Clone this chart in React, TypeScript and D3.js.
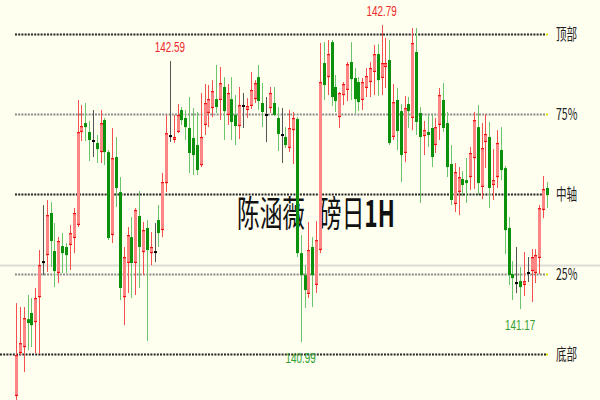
import React from 'react';
import * as d3 from 'd3';

const opens = [
  140.682, 140.926, 140.960, 141.119, 141.154, 141.102, 141.244, 141.443, 141.483, 141.722,
  141.506, 141.381, 141.534, 141.529, 141.540, 141.580, 141.654, 142.182, 142.233, 142.182,
  142.131, 142.120, 142.068, 142.250, 142.068, 141.597, 142.040, 141.841, 141.244, 141.438,
  141.585, 141.438, 141.705, 141.500, 141.637, 141.494, 141.500, 141.682, 141.625, 141.892,
  142.159, 142.137, 142.182, 142.307, 142.262, 142.205, 142.148, 142.108, 141.994, 142.222,
  142.290, 142.318, 142.369, 142.364, 142.438, 142.279, 142.369, 142.279, 142.216, 142.330,
  142.307, 142.330, 142.369, 142.494, 142.347, 142.279, 142.318, 142.347, 142.262, 142.165,
  142.154, 142.091, 142.193, 142.256, 141.494, 141.369, 141.262, 141.529, 141.313, 141.512,
  142.574, 142.494, 142.693, 142.438, 142.267, 142.392, 142.421, 142.580, 142.489, 142.466,
  142.364, 142.432, 142.466, 142.523, 142.625, 142.489, 142.551, 142.591, 142.154, 142.364,
  142.301, 142.063, 142.341, 142.262, 142.637, 142.290, 142.159, 142.182, 142.205, 142.108,
  142.222, 142.364, 142.233, 142.000, 141.773, 141.841, 141.915, 141.909, 141.926, 142.034,
  142.210, 141.870, 142.125, 142.154, 141.881, 141.926, 142.080, 141.977, 141.637, 141.375,
  141.324, 141.335, 141.313, 141.381, 141.392, 141.381, 141.466, 141.739, 141.864,
];
const highs = [
  141.210, 141.188, 141.188, 141.256, 141.239, 141.296, 141.512, 141.767, 141.796, 141.784,
  141.665, 141.585, 141.608, 141.551, 141.654, 141.750, 142.364, 142.335, 142.347, 142.245,
  142.307, 142.165, 142.307, 142.262, 142.080, 142.205, 142.154, 141.926, 141.529, 141.642,
  141.699, 141.750, 141.847, 141.671, 141.682, 141.614, 141.665, 141.767, 141.949, 142.279,
  142.585, 142.279, 142.341, 142.324, 142.307, 142.381, 142.318, 142.296, 142.404, 142.455,
  142.449, 142.477, 142.563, 142.551, 142.494, 142.455, 142.494, 142.392, 142.438, 142.404,
  142.375, 142.523, 142.477, 142.563, 142.460, 142.381, 142.438, 142.438, 142.324, 142.318,
  142.210, 142.307, 142.296, 142.267, 141.597, 141.426, 141.671, 141.585, 141.676, 142.688,
  142.693, 142.705, 142.705, 142.506, 142.409, 142.466, 142.580, 142.693, 142.546, 142.494,
  142.489, 142.546, 142.580, 142.676, 142.682, 142.790, 142.716, 142.705, 142.455, 142.432,
  142.341, 142.387, 142.381, 142.773, 142.773, 142.324, 142.245, 142.279, 142.279, 142.262,
  142.432, 142.460, 142.296, 142.108, 142.006, 141.983, 141.960, 142.034, 142.097, 142.296,
  142.335, 142.233, 142.284, 142.239, 142.085, 142.193, 142.210, 141.989, 141.699, 141.449,
  141.529, 141.415, 141.500, 141.472, 141.517, 141.517, 141.767, 141.932, 141.898,
];
const lows = [
  140.659, 140.915, 140.818, 140.943, 140.960, 140.926, 140.921, 141.369, 141.387, 141.415,
  141.301, 141.324, 141.381, 141.381, 141.398, 141.494, 141.642, 142.131, 142.131, 142.017,
  142.040, 142.006, 142.006, 141.994, 141.568, 141.551, 141.756, 141.227, 141.085, 141.267,
  141.239, 141.256, 141.296, 141.369, 140.995, 141.426, 141.443, 141.529, 141.585, 141.841,
  142.125, 142.120, 142.176, 142.222, 142.137, 141.949, 141.938, 141.938, 141.983, 142.165,
  142.210, 142.267, 142.290, 142.250, 142.137, 142.222, 142.137, 142.108, 142.142, 142.205,
  142.262, 142.313, 142.347, 142.307, 142.210, 142.125, 142.290, 142.273, 142.074, 142.006,
  142.091, 142.068, 142.000, 141.472, 140.989, 141.182, 141.239, 141.188, 141.267, 141.494,
  142.364, 142.392, 142.330, 142.296, 142.205, 142.335, 142.358, 142.364, 142.290, 142.301,
  142.307, 142.381, 142.381, 142.392, 142.387, 142.392, 142.432, 142.108, 142.137, 142.080,
  141.898, 142.012, 142.205, 142.193, 142.165, 141.779, 142.051, 142.097, 141.983, 142.063,
  142.137, 142.182, 141.926, 141.767, 141.727, 141.710, 141.818, 141.779, 141.852, 141.858,
  141.824, 141.801, 141.977, 141.750, 141.796, 141.864, 141.909, 141.489, 141.313, 141.227,
  141.267, 141.176, 141.250, 141.330, 141.216, 141.324, 141.375, 141.693, 141.750,
];
const closes = [
  140.915, 140.983, 141.125, 141.097, 141.085, 141.239, 141.426, 141.443, 141.710, 141.563,
  141.392, 141.563, 141.494, 141.483, 141.608, 141.722, 142.182, 142.216, 142.210, 142.137,
  142.131, 142.085, 142.233, 142.068, 141.580, 142.034, 141.864, 141.296, 141.472, 141.597,
  141.438, 141.739, 141.529, 141.625, 141.512, 141.529, 141.500, 141.608, 141.898, 142.176,
  142.159, 142.154, 142.279, 142.250, 142.210, 142.063, 142.051, 141.966, 142.154, 142.347,
  142.369, 142.415, 142.324, 142.460, 142.301, 142.404, 142.239, 142.216, 142.335, 142.330,
  142.330, 142.421, 142.460, 142.358, 142.296, 142.279, 142.404, 142.279, 142.171, 142.165,
  142.108, 142.205, 142.262, 141.494, 141.369, 141.284, 141.512, 141.369, 141.568, 142.466,
  142.449, 142.625, 142.381, 142.358, 142.404, 142.455, 142.568, 142.483, 142.369, 142.352,
  142.466, 142.500, 142.546, 142.625, 142.477, 142.574, 142.574, 142.120, 142.352, 142.188,
  142.051, 142.318, 142.301, 142.688, 142.239, 142.154, 142.193, 142.165, 142.040, 142.210,
  142.392, 142.205, 141.983, 141.796, 141.955, 141.926, 141.881, 141.892, 142.063, 142.250,
  141.892, 142.091, 142.171, 141.864, 141.909, 142.120, 141.966, 141.625, 141.369, 141.352,
  141.324, 141.301, 141.335, 141.381, 141.472, 141.483, 141.750, 141.858, 141.824,
];

const levelNames = ['顶部', '75%', '中轴', '25%', '底部'];
const levelValues = [142.739, 142.285, 141.83, 141.375, 140.921];
const levelStrong = [true, false, true, false, true];
const bidPrice = 141.426;

const markIndex = [40, 95, 74, 131];
const markValues = ['142.59', '142.79', '140.99', '141.17'];
const markKinds = ['high', 'high', 'low', 'low'];

const titleMain = '陈涵薇';
const titleSub = '磅日';
const titleTf = '1H';

export default function App() {
  const W = 600;
  const H = 400;
  const n = opens.length;
  const y = d3.scaleLinear().domain([140.921, 142.739]).range([354, 34]);
  const x = d3.scaleLinear().domain([0, n - 1]).range([16, 547]);
  const SX = 0.66;

  const candles = opens.map((o, i) => {
    const c = closes[i];
    const cx = Math.round(x(i));
    const yh = y(highs[i]);
    const yl = y(lows[i]);
    const yo = y(o);
    const yc = y(c);
    const top = Math.min(yo, yc);
    const bot = Math.max(yo, yc);
    if (c > o) {
      return (
        <g key={i}>
          <line x1={cx + 0.5} x2={cx + 0.5} y1={yh} y2={yl} stroke="#f45050" strokeWidth={1} />
          <rect x={cx - 1} y={top} width={3} height={Math.max(1, bot - top)} fill="#ff8484" />
          <rect x={cx - 1} y={top} width={3} height={1.2} fill="#f01010" />
          <rect x={cx - 1} y={bot - 1.2} width={3} height={1.2} fill="#f01010" />
        </g>
      );
    }
    if (c < o) {
      return (
        <g key={i}>
          <line x1={cx + 0.5} x2={cx + 0.5} y1={yh} y2={yl} stroke="#6cc46c" strokeWidth={1} />
          <rect x={cx - 1} y={top} width={3} height={Math.max(1, bot - top)} fill="#0b910b" />
        </g>
      );
    }
    return (
      <g key={i}>
        <line x1={cx + 0.5} x2={cx + 0.5} y1={yh} y2={yl} stroke="#555" strokeWidth={1} />
        <rect x={cx - 1} y={yo - 1} width={3} height={2} fill="#000" />
      </g>
    );
  });

  return (
    <svg
      width={W}
      height={H}
      style={{ position: 'fixed', left: 0, top: 0, display: 'block' }}
    >
      <rect x={0} y={0} width={W} height={H} fill="#fffff0" />
      <line x1={0} x2={W} y1={Math.round(y(bidPrice)) + 0.5} y2={Math.round(y(bidPrice)) + 0.5} stroke="#dcdcd6" strokeWidth={2} />
      {levelValues.map((v, i) => {
        const ly = Math.round(y(v));
        return (
          <g key={'lv' + i}>
            <line
              x1={i === levelValues.length - 1 ? 0 : 15}
              x2={546}
              y1={ly + 0.5}
              y2={ly + 0.5}
              stroke={levelStrong[i] ? '#222' : '#8a8a8a'}
              strokeWidth={2}
              strokeDasharray="2,1.2"
            />
            <rect x={546} y={ly - 0.5} width={2} height={2} fill="#e8e000" />
            <text
              transform={`translate(556,${ly + 6}) scale(${SX},1)`}
              fontSize={16}
              fontFamily="'Noto Sans CJK SC', 'Liberation Sans', sans-serif"
              fill="#222"
            >
              {levelNames[i]}
            </text>
          </g>
        );
      })}
      <g fill="#111" fontFamily="'Noto Sans CJK SC', sans-serif">
        <text transform={`translate(237,227) scale(0.63,1)`} fontSize={36}>
          {titleMain}
        </text>
        <text transform={`translate(319,227) scale(0.63,1)`} fontSize={36}>
          {titleSub}
          <tspan fontWeight="bold">{titleTf}</tspan>
        </text>
      </g>
      {candles}
      {markIndex.map((idx, k) => {
        const isHigh = markKinds[k] === 'high';
        const px = x(idx);
        const py = isHigh ? y(highs[idx]) - 9 : y(lows[idx]) + 21;
        return (
          <text
            key={'mk' + k}
            transform={`translate(${px},${py}) scale(${SX},1)`}
            textAnchor="middle"
            fontSize={15}
            fontFamily="'Liberation Sans', Arial, sans-serif"
            fill={isHigh ? '#ee2a2a' : '#2f9f2f'}
          >
            {markValues[k]}
          </text>
        );
      })}
    </svg>
  );
}
